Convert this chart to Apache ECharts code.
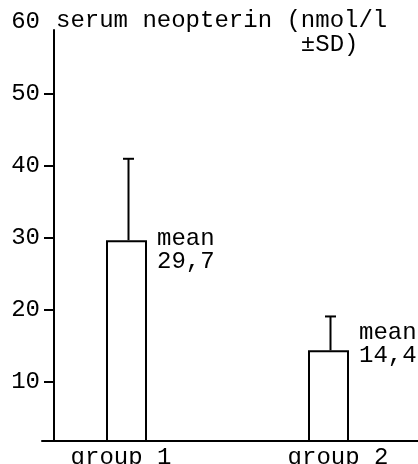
<!DOCTYPE html>
<html>
<head>
<meta charset="utf-8">
<script src="https://cdn.jsdelivr.net/npm/echarts@6/dist/echarts.min.js"></script>
<style>
html,body{margin:0;padding:0;background:#fff;}
#chart{width:418px;height:464px;}
</style>
</head>
<body>
<div id="chart"></div>
<script>
// ---- data ----
const categories = ['group 1', 'group 2'];
const means = [29.7, 14.4];
const sds = [11.3, 4.7];
const yLabelValues = [10, 20, 30, 40, 50, 60];
const yTickValues = [10, 20, 30, 40, 50];
const titleText = 'serum neopterin (nmol/l\n                 \u00b1SD)';
const meanWord = 'mean';

// ---- style ----
const FONT = '"Liberation Mono", "DejaVu Sans Mono", monospace';
const FS = 24;
const Y_MIN = 1.8;
const labelDy = [-13, -29];

const chart = echarts.init(document.getElementById('chart'), null, {renderer: 'canvas'});

const errData = means.map((m, i) => [i, m, sds[i]]);

const option = {
  backgroundColor: '#fff',
  animation: false,
  title: {
    text: titleText,
    left: 56,
    top: 9,
    padding: 0,
    textStyle: {fontFamily: FONT, fontSize: FS, fontWeight: 'normal', color: '#000', lineHeight: 24}
  },
  grid: [
    {left: 25.5, width: 404, top: 22, bottom: 23, outerBoundsMode: 'none', containLabel: false},
    {left: 42, right: 0, top: 30, bottom: 23, outerBoundsMode: 'none', containLabel: false}
  ],
  xAxis: [
    {
      type: 'category', gridIndex: 0, data: categories, boundaryGap: true,
      axisLine: {show: false, onZero: false}, axisTick: {show: false},
      axisLabel: {
        interval: 0, hideOverlap: false,
        margin: 5,
        fontFamily: FONT, fontSize: FS, color: '#000',
        formatter: (v, i) => i === 0 ? '{a|' + v + '}' : '{b|' + v + '}',
        rich: {
          a: {fontFamily: FONT, fontSize: FS, color: '#000', padding: [0, 11, 0, 0]},
          b: {fontFamily: FONT, fontSize: FS, color: '#000', padding: [0, 0, 0, 19]}
        }
      },
      splitLine: {show: false}
    },
    {
      type: 'category', gridIndex: 1, data: categories,
      axisLine: {show: true, onZero: false, lineStyle: {color: '#000', width: 2}},
      axisTick: {show: false}, axisLabel: {show: false}, splitLine: {show: false}
    }
  ],
  yAxis: [
    {
      type: 'value', gridIndex: 0, min: Y_MIN, max: 60, offset: -28.5,
      axisLine: {show: false},
      axisTick: {show: true, length: 10, customValues: yTickValues, lineStyle: {color: '#000', width: 2}},
      axisLabel: {show: true, margin: 14, customValues: yLabelValues, fontFamily: FONT, fontSize: FS, color: '#000'},
      splitLine: {show: false}
    },
    {
      type: 'value', gridIndex: 1, min: Y_MIN, max: 58.9, offset: -12,
      axisLine: {show: true, lineStyle: {color: '#000', width: 2}},
      axisTick: {show: false}, axisLabel: {show: false}, splitLine: {show: false}
    }
  ],
  series: [
    {
      type: 'bar', xAxisIndex: 0, yAxisIndex: 0,
      data: means, barWidth: 41, clip: true,
      itemStyle: {color: '#fff', borderColor: '#000', borderWidth: 2},
      z: 2
    },
    {
      type: 'custom', xAxisIndex: 0, yAxisIndex: 0,
      data: errData, z: 3,
      renderItem: function (params, api) {
        const i = api.value(0), m = api.value(1), sd = api.value(2);
        const base = api.coord([i, m]);
        const top = api.coord([i, m + sd]);
        const cap = 11;
        const half = 20.5;
        const txt = meanWord + '\n' + String(m).replace('.', ',');
        return {
          type: 'group',
          children: [
            {type: 'line', shape: {x1: base[0] + 2, y1: base[1], x2: top[0] + 2, y2: top[1]}, style: {stroke: '#000', lineWidth: 2}},
            {type: 'line', shape: {x1: top[0] + 2 - cap / 2, y1: top[1], x2: top[0] + 2 + cap / 2, y2: top[1]}, style: {stroke: '#000', lineWidth: 2}},
            {type: 'text', x: base[0] + half + 10, y: base[1] + labelDy[params.dataIndex],
              style: {text: txt, fill: '#000', font: FS + 'px ' + FONT, align: 'left', verticalAlign: 'top', lineHeight: 23}}
          ]
        };
      }
    }
  ]
};
chart.setOption(option);
</script>
</body>
</html>
